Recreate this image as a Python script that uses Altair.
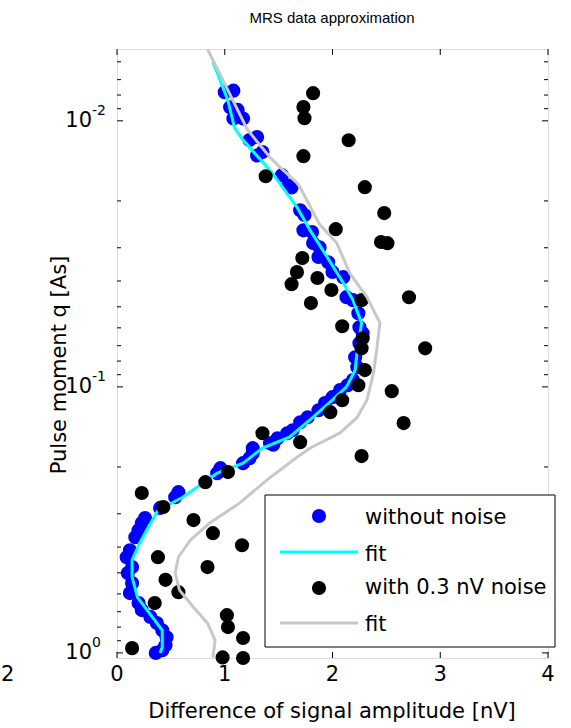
import altair as alt
import pandas as pd

# ---- data ----
blue_x = [1.00, 1.08, 1.05, 1.12, 1.08, 1.17, 1.23, 1.30, 1.30, 1.35, 1.53, 1.59, 1.62, 1.70, 1.74,
          1.73, 1.81, 1.82, 1.88, 1.87, 1.96, 2.00, 2.10, 2.13, 2.19, 2.24, 2.25, 2.28, 2.25, 2.21,
          2.23, 2.19, 2.14, 2.07, 2.00, 1.93, 1.87, 1.77, 1.70, 1.63, 1.58, 1.49, 1.45, 1.42, 1.26,
          1.26, 1.23, 1.17, 0.96, 0.93, 0.57, 0.54, 0.40, 0.26, 0.23, 0.20, 0.17, 0.12, 0.09, 0.14,
          0.10, 0.14, 0.12, 0.20, 0.23, 0.31, 0.37, 0.42, 0.46, 0.45, 0.42, 0.36]
blue_q = [0.0078, 0.0077, 0.0089, 0.0091, 0.0098, 0.0098, 0.0118, 0.0115, 0.0135, 0.0131, 0.0160,
          0.0175, 0.0178, 0.0217, 0.0226, 0.0258, 0.0262, 0.0288, 0.0299, 0.0325, 0.0340, 0.0370,
          0.0387, 0.0460, 0.0472, 0.0529, 0.0597, 0.0629, 0.0686, 0.0774, 0.0843, 0.0943, 0.0986,
          0.1028, 0.1093, 0.1151, 0.1224, 0.1301, 0.1358, 0.1455, 0.1494, 0.1560, 0.1650, 0.1629,
          0.1700, 0.1775, 0.1853, 0.1935, 0.2021, 0.2111, 0.2487, 0.2600, 0.2850, 0.3114, 0.3251,
          0.3457, 0.3671, 0.4111, 0.4365, 0.4757, 0.5012, 0.5466, 0.5957, 0.6494, 0.6901, 0.7325,
          0.7723, 0.8216, 0.8731, 0.9356, 0.9770, 1.0]

fit_clean_x = [0.89, 0.955, 1.03, 1.09, 1.17, 1.44, 1.67, 1.79, 1.95, 2.10, 2.19, 2.27, 2.23, 2.21,
               2.13, 2.00, 1.82, 1.60, 1.35, 1.17, 0.93, 0.61, 0.38, 0.29, 0.21, 0.14, 0.14, 0.19,
               0.33, 0.42, 0.42, 0.40]
fit_clean_q = [0.0060, 0.0070, 0.0084, 0.0106, 0.0118, 0.0157, 0.0211, 0.0257, 0.0325, 0.0407,
               0.0472, 0.0576, 0.0727, 0.0865, 0.100, 0.112, 0.130, 0.1545, 0.170, 0.1935, 0.211,
               0.260, 0.291, 0.337, 0.387, 0.448, 0.519, 0.618, 0.735, 0.822, 0.953, 1.0]

black_x = [1.82, 1.73, 1.74, 2.15, 1.73, 1.38, 2.30, 2.48, 2.03, 2.45, 2.51, 1.72, 1.67, 1.62, 1.86,
           1.99, 2.27, 1.80, 2.71, 2.09, 2.28, 2.27, 2.86, 2.30, 2.24, 2.55, 2.66, 2.09, 1.98, 1.35,
           1.70, 2.27, 1.03, 0.82, 0.23, 0.43, 0.71, 0.89, 1.16, 0.38, 0.84, 0.45, 0.57, 0.35, 1.02,
           1.03, 1.17, 0.14, 0.98, 1.17]
black_q = [0.00787, 0.00888, 0.00977, 0.01183, 0.01358, 0.01615, 0.01775, 0.02222, 0.02553, 0.02855,
           0.02882, 0.03281, 0.03704, 0.04110, 0.03896, 0.04325, 0.04720, 0.04843, 0.04603, 0.05916,
           0.06568, 0.07164, 0.07164, 0.08646, 0.09856, 0.1038, 0.1368, 0.1122, 0.1245, 0.1494,
           0.1614, 0.1820, 0.2091, 0.2281, 0.2506, 0.2829, 0.3168, 0.3546, 0.3939, 0.4365, 0.4757,
           0.5314, 0.5910, 0.6495, 0.7211, 0.7999, 0.8791, 0.9594, 1.04, 1.045]

fit_noisy_x = [0.84, 1.21, 1.42, 1.51, 1.67, 1.70, 1.88, 2.04, 2.16, 2.32, 2.44, 2.41, 2.38, 2.32,
               2.23, 2.07, 1.79, 1.67, 1.39, 1.14, 0.86, 0.68, 0.57, 0.54, 0.58, 0.71, 0.84, 0.91,
               0.89]
fit_noisy_q = [0.00537, 0.0108, 0.0137, 0.0149, 0.0171, 0.0178, 0.0245, 0.0288, 0.0374, 0.0460,
               0.0575, 0.0727, 0.0888, 0.112, 0.130, 0.149, 0.170, 0.184, 0.224, 0.273, 0.325,
               0.377, 0.437, 0.501, 0.581, 0.673, 0.773, 0.895, 1.04]

x_ticks = [0, 1, 2, 3, 4]
x_tick_labels = ["0", "1", "2", "3", "4"]
y_major = [0.01, 0.1, 1.0]
y_exp = ["-2", "-1", "0"]
y_minor = [0.006, 0.007, 0.008, 0.009, 0.02, 0.03, 0.04, 0.05, 0.06, 0.07, 0.08, 0.09,
           0.2, 0.3, 0.4, 0.5, 0.6, 0.7, 0.8, 0.9]

title_text = "MRS data approximation"
x_title = "Difference of signal amplitude [nV]"
y_title = "Pulse moment q [As]"
legend_labels = ["without noise", "fit", "with 0.3 nV noise", "fit"]

# ---- chart ----
W, H = 431, 609
FONT = "DejaVu Sans"
FS = 21
xs = alt.Scale(domain=[0, 4], nice=False, zero=False)
ys = alt.Scale(type="log", domain=[0.00537, 1.045], reverse=True, nice=False)


def X(f="x"):
    return alt.X(f"{f}:Q", scale=xs, axis=None)


def Y(f="q"):
    return alt.Y(f"{f}:Q", scale=ys, axis=None)


blue_df = pd.DataFrame({"x": blue_x, "q": blue_q})
black_df = pd.DataFrame({"x": black_x, "q": black_q})
fc_df = pd.DataFrame({"x": fit_clean_x, "q": fit_clean_q, "i": range(len(fit_clean_x))})
fn_df = pd.DataFrame({"x": fit_noisy_x, "q": fit_noisy_q, "i": range(len(fit_noisy_x))})
xt_df = pd.DataFrame({"x": x_ticks, "lab": x_tick_labels})
ymaj_df = pd.DataFrame({"q": y_major, "e": y_exp, "b": ["10"] * 3})
ymin_df = pd.DataFrame({"q": y_minor})
one = pd.DataFrame({"d": [0]})

MS = 200

blue = alt.Chart(blue_df).mark_circle(size=MS, color="#0000ff", opacity=1).encode(x=X(), y=Y())
cyan = alt.Chart(fc_df).mark_line(color="#00ffff", strokeWidth=3).encode(
    x=X(), y=Y(), order="i:Q")
black = alt.Chart(black_df).mark_circle(size=MS, color="#000000", opacity=1).encode(x=X(), y=Y())
gray = alt.Chart(fn_df).mark_line(color="#c8c8c8", strokeWidth=3, clip=True).encode(
    x=X(), y=Y(), order="i:Q")

# inward ticks
tk = dict(color="black", strokeWidth=1)
xb = alt.Chart(xt_df).mark_rule(**tk).encode(x=X(), y=alt.value(H), y2=alt.value(H - 6))
xtop = alt.Chart(xt_df).mark_rule(**tk).encode(x=X(), y=alt.value(0), y2=alt.value(6))
yl = alt.Chart(ymaj_df).mark_rule(**tk).encode(y=Y(), x=alt.value(0), x2=alt.value(6))
yr = alt.Chart(ymaj_df).mark_rule(**tk).encode(y=Y(), x=alt.value(W), x2=alt.value(W - 6))
yml = alt.Chart(ymin_df).mark_rule(**tk).encode(y=Y(), x=alt.value(0), x2=alt.value(4))
ymr = alt.Chart(ymin_df).mark_rule(**tk).encode(y=Y(), x=alt.value(W), x2=alt.value(W - 4))

# tick labels
xlab = alt.Chart(xt_df).mark_text(font=FONT, fontSize=FS, baseline="middle", color="black").encode(
    x=X(), y=alt.value(H + 17), text="lab:N")
ylab = alt.Chart(ymaj_df).mark_text(font=FONT, fontSize=FS, align="right", baseline="middle",
                                    color="black").encode(y=Y(), x=alt.value(-25), text="b:N")
yexp = alt.Chart(ymaj_df).mark_text(font=FONT, fontSize=14, align="left", baseline="middle",
                                    dy=-10, color="black").encode(y=Y(), x=alt.value(-25), text="e:N")


def txt(t, x, y, size=FS, align="center", angle=0, font=FONT):
    kw = dict(font=font, fontSize=size, align=align, baseline="middle", color="black", text=t)
    if angle:
        kw["angle"] = angle
    return alt.Chart(one).mark_text(**kw).encode(x=alt.value(x), y=alt.value(y))


title = txt(title_text, 215, -31, size=15, font="Liberation Sans")
xtitle = txt(x_title, 215, 663)
ytitle = txt(y_title, -57, 316, angle=270)
stray = txt("2", -116, 626, align="left")

# legend
lbox = alt.Chart(one).mark_rect(fill="white", stroke="black", strokeWidth=1).encode(
    x=alt.value(148), x2=alt.value(438), y=alt.value(446), y2=alt.value(598))
lb = alt.Chart(one).mark_circle(size=MS, color="#0000ff", opacity=1).encode(
    x=alt.value(202), y=alt.value(467))
lc = alt.Chart(one).mark_rule(color="#00ffff", strokeWidth=3).encode(
    x=alt.value(163), x2=alt.value(241), y=alt.value(503))
lk = alt.Chart(one).mark_circle(size=MS, color="#000000", opacity=1).encode(
    x=alt.value(202), y=alt.value(539))
lg = alt.Chart(one).mark_rule(color="#c8c8c8", strokeWidth=3).encode(
    x=alt.value(163), x2=alt.value(241), y=alt.value(574))
lt = [txt(legend_labels[i], 248, yy, align="left") for i, yy in enumerate([469, 506, 539, 576])]

chart = alt.layer(
    blue, cyan, black, gray,
    xb, xtop, yl, yr, yml, ymr,
    xlab, ylab, yexp, title, xtitle, ytitle, stray,
    lbox, lb, lc, lk, lg, *lt
).properties(
    width=W, height=H,
    autosize=alt.AutoSizeParams(type="none"),
    padding={"left": 117, "top": 49, "right": 23, "bottom": 70},
).configure_view(stroke="black", strokeWidth=1).configure(background="white")

chart.save("out.html", embed_options={"renderer": "svg", "actions": False})
